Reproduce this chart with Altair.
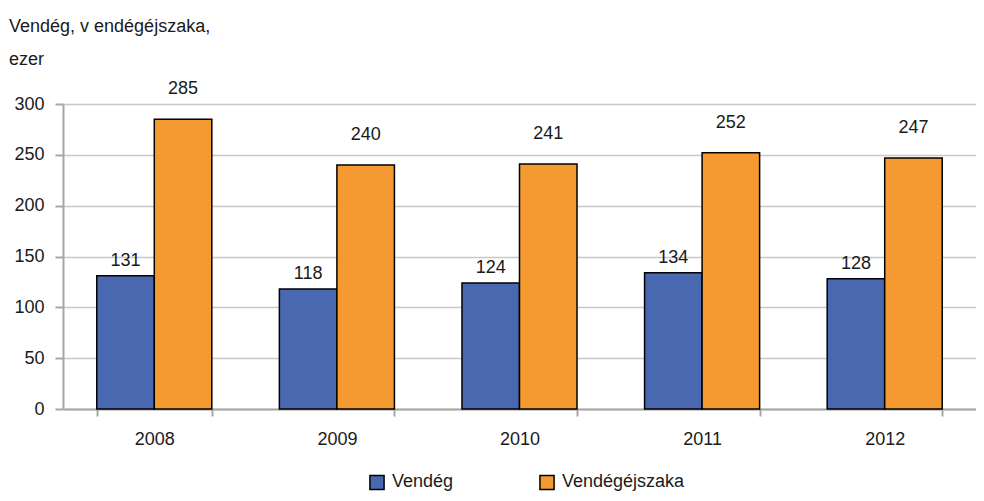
import altair as alt
import pandas as pd

years = ["2008", "2009", "2010", "2011", "2012"]
vendeg = [131, 118, 124, 134, 128]
vendegejszaka = [285, 240, 241, 252, 247]
series = ["Vendég", "Vendégéjszaka"]
colors = ["#4968AF", "#F49A30"]
title_lines = ["Vendég, v endégéjszaka,", "ezer"]
y_ticks = [0, 50, 100, 150, 200, 250, 300]

rows = []
for i, yr in enumerate(years):
    rows.append({"year": yr, "series": series[0], "value": vendeg[i]})
    rows.append({"year": yr, "series": series[1], "value": vendegejszaka[i]})
df = pd.DataFrame(rows)

FONT = "Liberation Sans"
TXT = "#1a1a1a"

x = alt.X("year:N", title=None, sort=years,
          scale=alt.Scale(paddingInner=0.37, paddingOuter=0.185),
          axis=alt.Axis(labelAngle=0, tickBand="extent", tickSize=7, labelPadding=14,
                        domainColor="#a6a6a6", domainWidth=2, tickColor="#a6a6a6",
                        tickWidth=2, labelFontSize=18, labelColor=TXT, labelFont=FONT,
                        grid=False))
xo = alt.XOffset("series:N", sort=series, scale=alt.Scale(paddingInner=0, paddingOuter=0))
y = alt.Y("value:Q", title=None,
          scale=alt.Scale(domain=[0, 300], nice=False),
          axis=alt.Axis(values=y_ticks, tickSize=8, labelPadding=11, domainColor="#a6a6a6",
                        domainWidth=2, tickColor="#a6a6a6", tickWidth=2, gridColor="#c8c8c8",
                        gridWidth=1.5, labelFontSize=18, labelColor=TXT, labelFont=FONT))

base = alt.Chart(df)

bars = base.mark_bar(stroke="black", strokeWidth=1.5).encode(
    x=x, xOffset=xo, y=y,
    color=alt.Color("series:N", sort=series, scale=alt.Scale(domain=series, range=colors),
                    legend=alt.Legend(title=None, orient="none", legendX=305, legendY=369,
                                      direction="horizontal", symbolType="square",
                                      symbolSize=200, symbolStrokeColor="black",
                                      symbolStrokeWidth=1.5, labelFontSize=18,
                                      labelFont=FONT, labelColor=TXT,
                                      gridAlign="all", columnPadding=21, labelOffset=6)),
)

lab1 = base.transform_filter(alt.datum.series == series[0]).mark_text(
    baseline="alphabetic", dy=-10, fontSize=18, font=FONT, color=TXT
).encode(x=x, xOffset=xo, y=y, text="value:Q")
lab2 = base.transform_filter(alt.datum.series == series[1]).mark_text(
    baseline="alphabetic", dy=-25, fontSize=18, font=FONT, color=TXT
).encode(x=x, xOffset=xo, y=y, text="value:Q")

t1 = alt.Chart(pd.DataFrame({"t": [title_lines[0]]})).mark_text(
    align="left", baseline="alphabetic", fontSize=18, font=FONT, color=TXT
).encode(text="t:N", x=alt.value(-54), y=alt.value(-72))
t2 = alt.Chart(pd.DataFrame({"t": [title_lines[1]]})).mark_text(
    align="left", baseline="alphabetic", fontSize=18, font=FONT, color=TXT
).encode(text="t:N", x=alt.value(-54), y=alt.value(-39))

chart = alt.layer(bars, lab1, lab2, t1, t2).properties(
    width=913, height=305,
    autosize=alt.AutoSizeParams(type="none"),
    padding={"left": 55, "top": 96, "right": 0, "bottom": 84},
).configure_view(stroke=None)

chart.save("out.html", embed_options={"renderer": "svg", "actions": False})
